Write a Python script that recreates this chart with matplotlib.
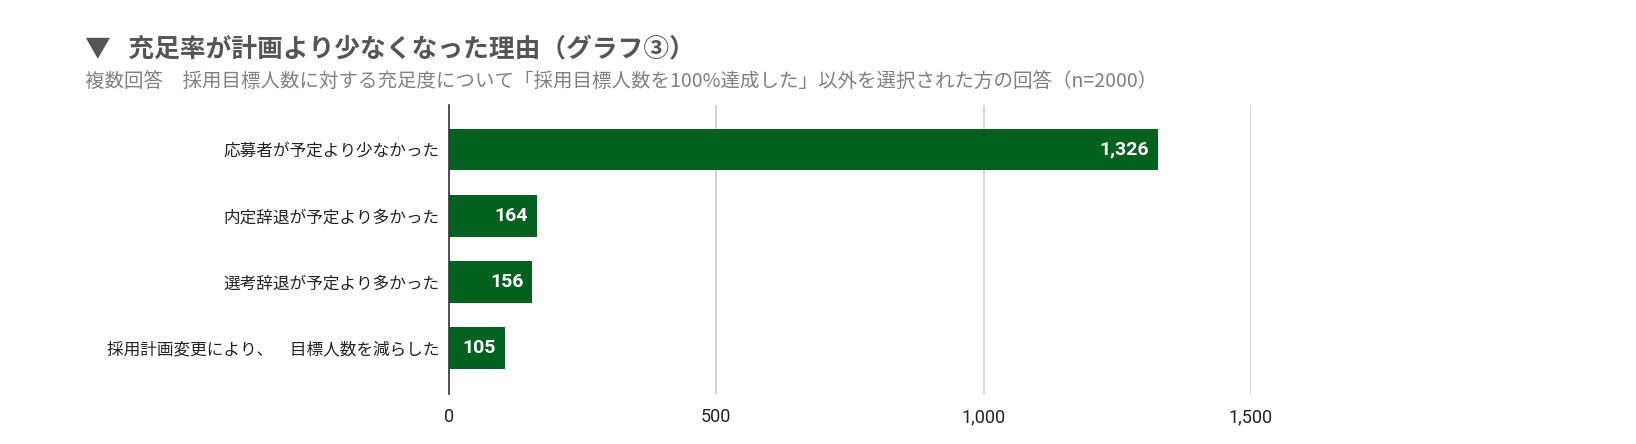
import matplotlib.pyplot as plt
from matplotlib.ticker import FuncFormatter

# data
categories = ['応募者が予定より少なかった', '内定辞退が予定より多かった',
              '選考辞退が予定より多かった', '採用計画変更により、　目標人数を減らした']
counts = [1326, 164, 156, 105]
xticks = [0, 500, 1000, 1500]

title = '▼   充足率が計画より少なくなった理由（グラフ③）'
subtitle = '複数回答　採用目標人数に対する充足度について「採用目標人数を100%達成した」以外を選択された方の回答（n=2000）'

plt.rcParams['font.family'] = ['Noto Sans CJK JP', 'DejaVu Sans']
num_font = ['Liberation Sans Narrow', 'Roboto', 'DejaVu Sans']
bar_color = '#02611f'

fig = plt.figure(figsize=(16.36, 4.44), dpi=100)
ax = fig.add_axes([449 / 1636, 1 - 394 / 444, (1251 - 449) / 1636, (394 - 105) / 444])

y = list(range(len(categories)))
bars = ax.barh(y, counts, height=0.63, color=bar_color, zorder=3)

# value labels inside bar ends
for yi, v in zip(y, counts):
    ax.annotate(f'{v:,}', xy=(v, yi), xytext=(-9, 0), textcoords='offset pixels',
                ha='right', va='center', color='white', fontsize=14,
                fontweight='bold', family=num_font, zorder=4)

ax.set_xlim(0, 1500)
ax.set_ylim(len(categories) - 1 + 0.69, -0.67)
ax.set_xticks(xticks)
ax.xaxis.set_major_formatter(FuncFormatter(lambda v, p: f'{int(v):,}'))
ax.set_yticks(y)
ax.set_yticklabels(categories, fontsize=12, color='#222222')
for lbl in ax.get_xticklabels():
    lbl.set_family(num_font)
    lbl.set_fontsize(13)
    lbl.set_color('#222222')

ax.tick_params(axis='both', length=0)
ax.tick_params(axis='y', pad=6.5)
ax.tick_params(axis='x', pad=10)
ax.grid(axis='x', color='#cccccc', linewidth=1.2, zorder=0)
for s in ['top', 'right', 'bottom']:
    ax.spines[s].set_visible(False)
ax.spines['left'].set_color('#333333')
ax.spines['left'].set_linewidth(1.2)
ax.spines['left'].set_zorder(5)

fig.text(85 / 1636, 1 - 48.5 / 444, title, fontsize=18.5, fontweight='bold',
         color='#555555', ha='left', va='center')
fig.text(85 / 1636, 1 - 82.5 / 444, subtitle, fontsize=14, color='#808080',
         ha='left', va='center')

plt.savefig('out.png', dpi=100)
